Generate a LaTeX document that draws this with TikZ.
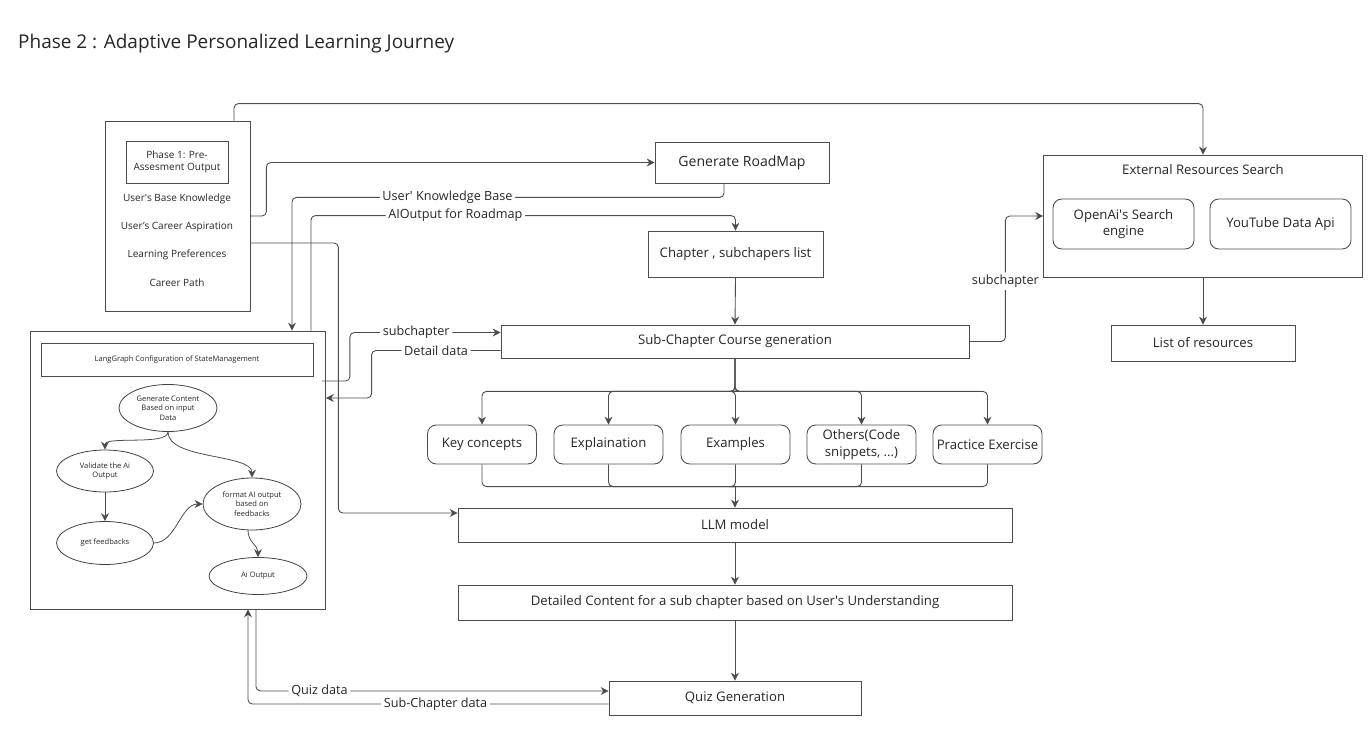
\documentclass[tikz,border=0pt]{standalone}
\usepackage{fontspec}
\setmainfont{Open Sans}
\usetikzlibrary{positioning}
\usetikzlibrary{shapes.geometric}
\usetikzlibrary{arrows.meta}
\usetikzlibrary{calc}

\begin{document}
\begin{tikzpicture}
    [
      x = 0.02cm, y = -0.02cm,
      every node/.style = {text=black!85},
      box/.style = {draw=black!70, line width=0.5pt, inner sep=1pt, align=center, font=\fontsize{7.5}{9.5}\selectfont},
      roundbox/.style = {box, rounded corners=5pt},
      bubble/.style = {ellipse, draw=black!75, line width=0.45pt, inner sep=0pt, align=center, font=\fontsize{4.3}{5.4}\selectfont},
      small/.style = {font=\fontsize{5.7}{7}\selectfont, align=center},
      lbl/.style = {fill=white, inner sep=1.5pt, font=\fontsize{7.2}{8.5}\selectfont},
      link/.style = {draw=black!70, line width=0.5pt, rounded corners=2.5pt},
      arr/.style = {link, -{Stealth[length=4.5pt, width=4.5pt]}},
    ]

    \useasboundingbox (0,0) rectangle (1371,729);

    \node[anchor=west, font=\fontsize{10.8}{13}\selectfont] (title) at (12,44) {Phase 2 : Adaptive Personalized Learning Journey};

    \node[box, minimum width=2.9cm, minimum height=3.8cm] (phase1) at (177.5,216) {};
    \node[box, small, minimum width=2.04cm, minimum height=0.84cm] (pre) at (177,162) {Phase 1: Pre-\\Assesment Output};
    \node[small] (base) at (177,199) {User\textquotesingle s Base Knowledge};
    \node[small] (career) at (177,227) {User's Career Aspiration};
    \node[small] (prefs) at (177,255) {Learning Preferences};
    \node[small] (path) at (177,283) {Career Path};

    \node[box, font=\fontsize{8}{10}\selectfont, minimum width=3.48cm, minimum height=0.82cm] (roadmap) at (742,162.5) {Generate RoadMap};
    \node[box, minimum width=3.5cm, minimum height=0.92cm] (chapter) at (735.5,254) {Chapter , subchapers list};
    \node[box, minimum width=9.36cm, minimum height=0.66cm] (subcourse) at (735,341.5) {Sub-Chapter Course generation};

    \node[roundbox, minimum width=2.18cm, minimum height=0.78cm] (concepts) at (482,444.5) {Key concepts};
    \node[roundbox, minimum width=2.18cm, minimum height=0.78cm] (explain) at (608.5,444.5) {Explaination};
    \node[roundbox, minimum width=2.18cm, minimum height=0.78cm] (examples) at (735.5,444.5) {Examples};
    \node[roundbox, minimum width=2.18cm, minimum height=0.78cm] (others) at (861.5,444.5) {Others(Code\\snippets, ...)};
    \node[roundbox, minimum width=2.18cm, minimum height=0.78cm] (practice) at (987.5,444.5) {Practice Exercise};

    \node[box, minimum width=11.08cm, minimum height=0.68cm] (llm) at (735,525) {LLM model};
    \node[box, minimum width=11.08cm, minimum height=0.7cm] (detail) at (735,602.5) {Detailed Content for a sub chapter based on User\textquotesingle s Understanding};
    \node[box, minimum width=5.04cm, minimum height=0.68cm] (quiz) at (735,698) {Quiz Generation};

    \node[box, minimum width=6.38cm, minimum height=2.44cm] (ext) at (1203,216) {};
    \node[font=\fontsize{7.5}{9.5}\selectfont] (exttitle) at (1203,170) {External Resources Search};
    \node[roundbox, minimum width=2.82cm, minimum height=1cm] (openai) at (1123.5,224) {OpenAi\textquotesingle s Search\\engine};
    \node[roundbox, minimum width=2.82cm, minimum height=1cm] (youtube) at (1280.5,224) {YouTube Data Api};
    \node[box, minimum width=3.68cm, minimum height=0.72cm] (resources) at (1203,343) {List of resources};

    \node[box, minimum width=5.9cm, minimum height=5.56cm] (lang) at (178,470) {};
    \node[box, font=\fontsize{4.3}{5.4}\selectfont, minimum width=5.44cm, minimum height=0.66cm] (config) at (177,359.5) {LangGraph Configuration of StateManagement};
    \node[bubble, minimum width=1.96cm, minimum height=0.94cm] (generate) at (168,408) {Generate Content\\Based on input\\Data};
    \node[bubble, minimum width=1.94cm, minimum height=0.84cm] (validate) at (105,471) {Validate the Ai\\Output};
    \node[bubble, minimum width=1.94cm, minimum height=0.86cm] (feedback) at (105,543) {get feedbacks};
    \node[bubble, minimum width=1.96cm, minimum height=1.04cm] (format) at (252,504) {format AI output\\based on\\feedbacks};
    \node[bubble, minimum width=1.96cm, minimum height=0.74cm] (aiout) at (258,576) {Ai Output};

    \draw[arr] ($(phase1.north)+(56.5,0)$) -- ++(0,-17) -| (ext.north);
    \draw[arr] (phase1.east) -- ++(16,0) |- (roadmap.west);
    \draw[arr] ($(roadmap.south)+(-18,0)$) -- ++(0,14) -| node[lbl, pos=0.32] {User\textquotesingle{} Knowledge Base} ($(lang.north)+(114,0)$);
    \draw[arr] ($(lang.north)+(133,0)$) |- node[lbl, pos=0.67] {AIOutput for Roadmap} ($(chapter.north)+(0,-15)$) -- (chapter.north);
    \draw[arr] (chapter.south) -- (subcourse.north);
    \draw[arr] ($(lang.east)+(-4,-89)$) -- ++(28,0) |- node[lbl, pos=0.72] {subchapter} ($(subcourse.west)+(0,-9)$);
    \draw[arr] ($(subcourse.west)+(0,9)$) -- node[lbl] {Detail data} ++(-129,0) |- ($(lang.east)+(0,-72)$);
    \draw[arr] ($(phase1.east)+(0,27)$) -- ++(88,0) |- ($(llm.west)+(0,-12)$);

    \draw[arr] (subcourse.south) -- ++(0,33) -| (concepts.north);
    \draw[arr] (subcourse.south) -- ++(0,33) -| (explain.north);
    \draw[arr] (subcourse.south) -- ++(0,33) -| (examples.north);
    \draw[arr] (subcourse.south) -- ++(0,33) -| (others.north);
    \draw[arr] (subcourse.south) -- ++(0,33) -| (practice.north);

    \draw[link] (concepts.south) |- ($(llm.north)+(0,-21)$);
    \draw[link] (explain.south) |- ($(llm.north)+(0,-21)$);
    \draw[link] (examples.south) |- ($(llm.north)+(0,-21)$);
    \draw[link] (others.south) |- ($(llm.north)+(0,-21)$);
    \draw[link] (practice.south) |- ($(llm.north)+(0,-21)$);
    \draw[arr] ($(llm.north)+(0,-21)$) -- (llm.north);

    \draw[arr] (llm.south) -- (detail.north);
    \draw[arr] (detail.south) -- (quiz.north);
    \draw[arr] ($(lang.south)+(78,0)$) |- node[lbl, pos=0.59] {Quiz data} ($(quiz.west)+(0,-7)$);
    \draw[arr] ($(quiz.west)+(0,6)$) -| node[lbl, pos=0.24] {Sub-Chapter data} ($(lang.south)+(70,0)$);

    \draw[arr] (subcourse.east) -- ++(36,0) |- node[lbl, pos=0.24] {subchapter} (ext.west);
    \draw[arr] (ext.south) -- (resources.north);

    \draw[arr, line width=0.45pt] (generate.south) .. controls +(0,14) and +(0,-14) .. (validate.north);
    \draw[arr, line width=0.45pt] (generate.south) .. controls +(0,28) and +(0,-24) .. (format.north);
    \draw[arr, line width=0.45pt] (validate.south) -- (feedback.north);
    \draw[arr, line width=0.45pt] (feedback.east) .. controls +(22,0) and +(-22,0) .. (format.west);
    \draw[arr, line width=0.45pt] ($(format.south)+(-4,0)$) .. controls +(0,12) and +(0,-12) .. (aiout.north);

  \end{tikzpicture}
\end{document}
